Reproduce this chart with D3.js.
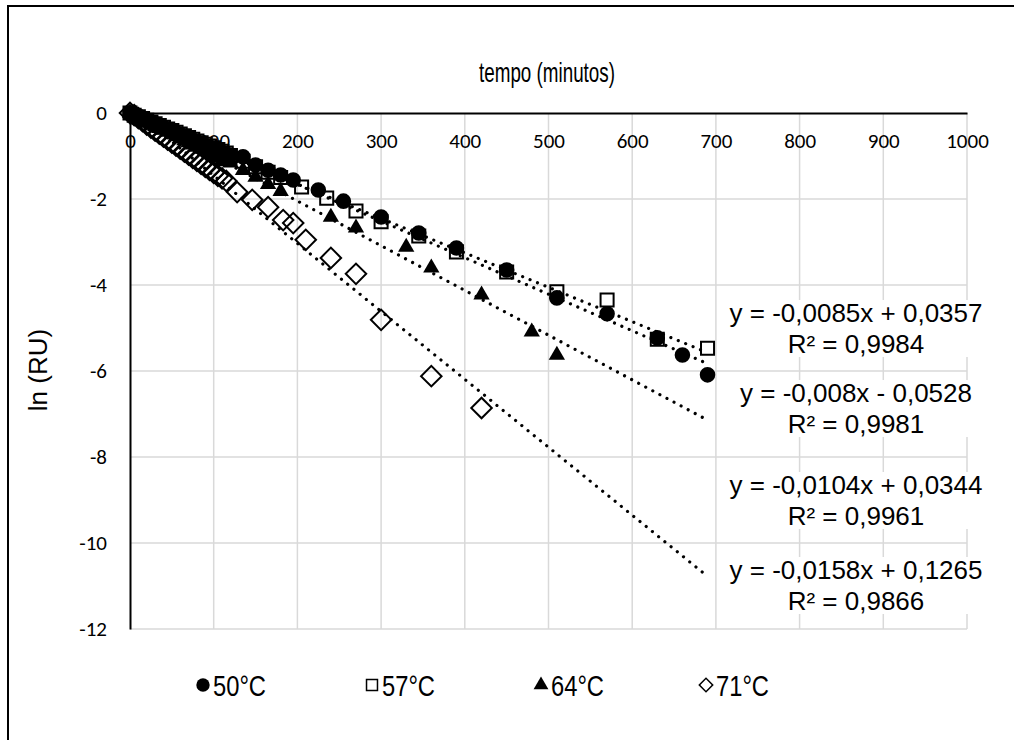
<!DOCTYPE html>
<html>
<head>
<meta charset="utf-8">
<script src="https://cdn.jsdelivr.net/npm/d3@7"></script>
<style>
  body { margin: 0; background: #fff; }
  svg { display: block; }
</style>
</head>
<body>
<div id="chart"></div>
<script>
// tempo (min) and ln(RU) per temperature
const t50 = [0,5,10,15,20,25,30,35,40,45,50,55,60,65,70,75,80,85,90,95,100,105,110,115,
  120,135,150,165,180,195,225,255,300,345,390,450,510,570,630,660,690]
const y50 = [0,-0.04,-0.08,-0.12,-0.16,-0.21,-0.25,-0.29,-0.33,-0.38,-0.42,-0.46,-0.50,-0.55,-0.59,-0.63,-0.67,-0.72,-0.76,-0.80,-0.84,-0.88,-0.92,-0.96,
  -0.98,-1.02,-1.21,-1.33,-1.44,-1.56,-1.79,-2.05,-2.42,-2.79,-3.14,-3.65,-4.30,-4.67,-5.23,-5.63,-6.09]

const t57 = [0,5,10,15,20,25,30,35,40,45,50,55,60,65,70,75,80,85,90,95,100,105,110,115,
  120,135,150,165,180,205,235,270,300,345,390,450,510,570,630,690]
const y57 = [0,-0.05,-0.09,-0.13,-0.17,-0.21,-0.25,-0.29,-0.33,-0.37,-0.41,-0.45,-0.49,-0.53,-0.57,-0.61,-0.65,-0.69,-0.73,-0.77,-0.81,-0.85,-0.89,-0.93,
  -0.99,-1.12,-1.25,-1.38,-1.50,-1.72,-1.98,-2.28,-2.53,-2.86,-3.23,-3.70,-4.16,-4.35,-5.26,-5.47]

const t64 = [0,5,10,15,20,25,30,35,40,45,50,55,60,65,70,75,80,85,90,95,100,105,110,115,
  120,135,150,165,180,240,270,330,360,420,480,510]
const y64 = [0,-0.03,-0.08,-0.13,-0.18,-0.23,-0.29,-0.34,-0.39,-0.44,-0.49,-0.54,-0.59,-0.64,-0.69,-0.74,-0.79,-0.84,-0.89,-0.95,-1.00,-1.05,-1.10,-1.13,
  -1.16,-1.33,-1.49,-1.66,-1.82,-2.42,-2.67,-3.12,-3.60,-4.23,-5.09,-5.63]

const t71 = [0,5,10,15,20,25,30,35,40,45,50,55,60,65,70,75,80,85,90,95,100,105,110,115,
  128,146,165,183,195,210,240,270,300,360,420]
const y71 = [0,-0.05,-0.12,-0.19,-0.27,-0.34,-0.41,-0.48,-0.55,-0.62,-0.69,-0.76,-0.83,-0.90,-0.97,-1.04,-1.11,-1.18,-1.25,-1.32,-1.39,-1.46,-1.52,-1.58,
  -1.84,-2.02,-2.19,-2.49,-2.56,-2.95,-3.37,-3.74,-4.81,-6.12,-6.86]

const seriesNames = ["50°C", "57°C", "64°C", "71°C"]
const slopes = [-0.0085, -0.008, -0.0104, -0.0158]
const intercepts = [0.0357, -0.0528, 0.0344, 0.1265]
const eqLabels = ["y = -0,0085x + 0,0357", "y = -0,008x - 0,0528", "y = -0,0104x + 0,0344", "y = -0,0158x + 0,1265"]
const r2Labels = ["R² = 0,9984", "R² = 0,9981", "R² = 0,9961", "R² = 0,9866"]
const trendEnd = 690

const xTicks = [0,100,200,300,400,500,600,700,800,900,1000]
const yTicks = [0,-2,-4,-6,-8,-10,-12]

const width = 1014
const height = 740
const arial = "'Liberation Sans', Arial, sans-serif"
const calibri = "Carlito, Calibri, Lato, sans-serif"

const svg = d3.select("#chart").append("svg")
  .attr("width", width)
  .attr("height", height)

// outer chart frame (runs off the window at right and bottom)
svg.append("rect")
  .attr("x", 8).attr("y", 6)
  .attr("width", 1030).attr("height", 760)
  .attr("fill", "#fff")
  .attr("stroke", "#000")
  .attr("stroke-width", 2)

const x = d3.scaleLinear().domain([0, 1000]).range([130, 967])
const y = d3.scaleLinear().domain([0, -12]).range([113, 629])

// gridlines
svg.append("g").selectAll("line.v")
  .data(xTicks.slice(1))
  .enter().append("line")
    .attr("x1", d => x(d)).attr("x2", d => x(d))
    .attr("y1", y(0)).attr("y2", y(-12))
    .attr("stroke", "#d9d9d9").attr("stroke-width", 1.5)

svg.append("g").selectAll("line.h")
  .data(yTicks.slice(1))
  .enter().append("line")
    .attr("x1", x(0)).attr("x2", x(1000))
    .attr("y1", d => y(d)).attr("y2", d => y(d))
    .attr("stroke", "#d9d9d9").attr("stroke-width", 1.5)

// axes
const xAxis = svg.append("g")
  .attr("transform", `translate(0,${y(0)})`)
  .call(d3.axisBottom(x).tickValues(xTicks).tickSize(0).tickPadding(0).tickFormat(d3.format("d")))
xAxis.select(".domain").attr("stroke", "#000").attr("stroke-width", 2)
xAxis.selectAll("text")
  .attr("dy", "1.65em")
  .attr("font-family", calibri).attr("font-size", 21).attr("fill", "#000")

const yAxis = svg.append("g")
  .attr("transform", `translate(${x(0)},0)`)
  .call(d3.axisLeft(y).tickValues(yTicks).tickSize(0).tickPadding(23).tickFormat(d3.format("d")))
yAxis.select(".domain").attr("stroke", "#000").attr("stroke-width", 2)
yAxis.selectAll("text")
  .attr("font-family", calibri).attr("font-size", 21).attr("fill", "#000")
  .text(d => d < 0 ? "-" + Math.abs(d) : d)

// titles
svg.append("text")
  .attr("x", 547).attr("y", 82)
  .attr("text-anchor", "middle")
  .attr("font-family", arial).attr("font-size", 28)
  .attr("textLength", 136).attr("lengthAdjust", "spacingAndGlyphs")
  .text("tempo (minutos)")

svg.append("text")
  .attr("transform", "translate(47,370) rotate(-90)")
  .attr("text-anchor", "middle")
  .attr("font-family", arial).attr("font-size", 26)
  .text("ln (RU)")

// markers
const shapes = [
  { type: d3.symbolCircle, size: 190, fill: "#000", rot: 0 },
  { type: d3.symbolSquare, size: 170, fill: "none", rot: 0 },
  { type: d3.symbolTriangle, size: 115, fill: "#000", rot: 0 },
  { type: d3.symbolSquare, size: 210, fill: "none", rot: 45 }
]

const series = [
  d3.zip(t50, y50),
  d3.zip(t57, y57),
  d3.zip(t64, y64),
  d3.zip(t71, y71)
]

series.forEach((pts, i) => {
  const s = shapes[i]
  svg.append("g").selectAll("path")
    .data(pts)
    .enter().append("path")
      .attr("d", d3.symbol().type(s.type).size(s.size))
      .attr("transform", d => `translate(${x(d[0])},${y(d[1])}) rotate(${s.rot})`)
      .attr("fill", s.fill)
      .attr("stroke", "#000")
      .attr("stroke-width", s.fill === "none" ? 2 : 0)
})

// linear trendlines
const line = d3.line().x(d => x(d[0])).y(d => y(d[1]))
slopes.forEach((m, i) => {
  svg.append("path")
    .datum([[0, intercepts[i]], [trendEnd, m * trendEnd + intercepts[i]]])
    .attr("d", line)
    .attr("fill", "none")
    .attr("stroke", "#000")
    .attr("stroke-width", 3.2)
    .attr("stroke-linecap", "round")
    .attr("stroke-dasharray", "0.01 8")
})

// trendline labels
const labelY = [322, 402, 494, 579]
eqLabels.forEach((eq, i) => {
  const g = svg.append("g")
  const t = g.append("text")
    .attr("x", 856).attr("y", labelY[i])
    .attr("text-anchor", "middle")
    .attr("font-family", arial).attr("font-size", 26)
  t.append("tspan").attr("x", 856).text(eq)
  t.append("tspan").attr("x", 856).attr("dy", 31).text(r2Labels[i])
  const b = t.node().getBBox()
  g.insert("rect", "text")
    .attr("x", b.x).attr("y", b.y + 2)
    .attr("width", b.width).attr("height", b.height - 4)
    .attr("fill", "#fff")
})

// legend
const legendX = [203, 372, 541, 706]
const legendMarks = [
  { type: d3.symbolCircle, size: 140, fill: "#000", rot: 0 },
  { type: d3.symbolSquare, size: 120, fill: "none", rot: 0 },
  { type: d3.symbolTriangle, size: 95, fill: "#000", rot: 0 },
  { type: d3.symbolSquare, size: 90, fill: "none", rot: 45 }
]
seriesNames.forEach((name, i) => {
  const s = legendMarks[i]
  svg.append("path")
    .attr("d", d3.symbol().type(s.type).size(s.size))
    .attr("transform", `translate(${legendX[i]},685) rotate(${s.rot})`)
    .attr("fill", s.fill)
    .attr("stroke", "#000")
    .attr("stroke-width", s.fill === "none" ? 1.5 : 0)
  svg.append("text")
    .attr("x", legendX[i] + 10).attr("y", 696)
    .attr("font-family", arial).attr("font-size", 29)
    .attr("textLength", 53).attr("lengthAdjust", "spacingAndGlyphs")
    .text(name)
})
</script>
</body>
</html>
